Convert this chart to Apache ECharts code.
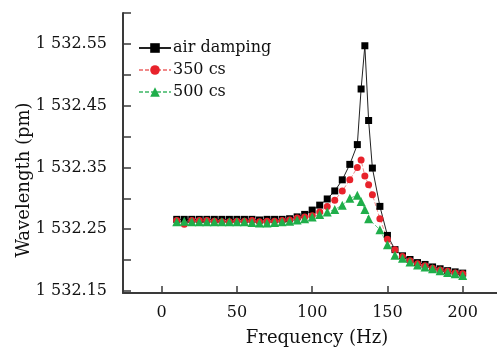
<!DOCTYPE html>
<html>
<head>
<meta charset="utf-8">
<script src="https://cdn.jsdelivr.net/npm/echarts@6/dist/echarts.min.js"></script>
<style>
html,body{margin:0;padding:0;background:#fff;}
#chart{width:497px;height:349px;}
</style>
</head>
<body>
<div id="chart"></div>
<script>
var freq = [10,15,20,25,30,35,40,45,50,55,60,65,70,75,80,85,90,95,100,105,110,115,120,125,130,132.5,135,137.5,140,145,150,155,160,165,170,175,180,185,190,195,200];

var airDamping = [1532.266,1532.266,1532.266,1532.266,1532.266,1532.266,1532.266,1532.266,1532.266,1532.266,
  1532.266,1532.265,1532.266,1532.266,1532.266,1532.267,1532.270,1532.274,1532.281,1532.289,
  1532.299,1532.312,1532.330,1532.355,1532.387,1532.477,1532.547,1532.426,1532.349,1532.287,
  1532.240,1532.217,1532.207,1532.201,1532.196,1532.193,1532.189,1532.186,1532.183,1532.181,1532.179];

var cs350 = [1532.264,1532.258,1532.264,1532.264,1532.264,1532.263,1532.262,1532.262,1532.263,1532.263,
  1532.264,1532.262,1532.263,1532.263,1532.264,1532.265,1532.268,1532.270,1532.272,1532.278,
  1532.287,1532.297,1532.312,1532.330,1532.350,1532.362,1532.336,1532.322,1532.306,1532.267,
  1532.234,1532.217,1532.206,1532.199,1532.194,1532.191,1532.187,1532.184,1532.182,1532.179,1532.178];

var cs500 = [1532.262,1532.263,1532.262,1532.262,1532.262,1532.262,1532.262,1532.262,1532.262,1532.262,
  1532.261,1532.260,1532.260,1532.261,1532.262,1532.263,1532.265,1532.267,1532.270,1532.274,
  1532.278,1532.282,1532.289,1532.300,1532.305,1532.295,1532.282,1532.267,null,1532.249,
  1532.225,1532.208,1532.203,1532.197,1532.192,1532.189,1532.186,1532.183,1532.180,1532.178,1532.175];

var seriesNames = ['air damping', '350 cs', '500 cs'];
var xTickValues = [0, 50, 100, 150, 200];
var yTickValues = [1532.15, 1532.2, 1532.25, 1532.3, 1532.35, 1532.4, 1532.45, 1532.5, 1532.55, 1532.6];
var yLabelValues = [1532.15, 1532.25, 1532.35, 1532.45, 1532.55];

function pairs(vals) {
  var out = [];
  for (var i = 0; i < freq.length; i++) {
    if (vals[i] !== null) out.push([freq[i], vals[i]]);
  }
  return out;
}

var FONT = 'DejaVu Serif';
var TXT = '#111111';
var chart = echarts.init(document.getElementById('chart'), null, {renderer: 'canvas'});
chart.setOption({
  animation: false,
  backgroundColor: '#ffffff',
  grid: {left: 123, right: 0, top: 13, bottom: 56, containLabel: false, outerBoundsMode: 'none'},
  legend: {
    orient: 'vertical',
    left: 136,
    top: 38,
    itemWidth: 32,
    itemHeight: 12,
    itemGap: 6,
    padding: [2, 4, 2, 2],
    backgroundColor: '#ffffff',
    textStyle: {fontFamily: FONT, fontSize: 16, color: TXT, padding: [0, 0, 0, -3]},
    data: seriesNames
  },
  xAxis: {
    type: 'value',
    min: -25.7,
    max: 222.8,
    name: 'Frequency (Hz)',
    nameLocation: 'middle',
    nameGap: 36,
    nameMoveOverlap: false,
    nameTextStyle: {fontFamily: FONT, fontSize: 18, color: TXT, padding: [0, 0, 0, 14]},
    splitLine: {show: false},
    axisLine: {show: true, onZero: false, lineStyle: {color: '#3a3a3a', width: 2}},
    axisTick: {show: true, inside: true, length: 7, customValues: xTickValues, lineStyle: {color: '#3a3a3a', width: 1.5}},
    axisLabel: {customValues: xTickValues, fontFamily: FONT, fontSize: 16, color: TXT, margin: 12}
  },
  yAxis: {
    type: 'value',
    min: 1532.1468,
    max: 1532.6,
    name: 'Wavelength (pm)',
    nameLocation: 'middle',
    nameRotate: 90,
    nameGap: 90,
    nameMoveOverlap: false,
    nameTextStyle: {fontFamily: FONT, fontSize: 18, color: TXT, padding: [0, 54, 0, 0]},
    splitLine: {show: false},
    axisLine: {show: true, onZero: false, lineStyle: {color: '#3a3a3a', width: 2}},
    axisTick: {show: true, inside: true, length: 8, customValues: yTickValues, lineStyle: {color: '#3a3a3a', width: 1.5}},
    axisLabel: {
      customValues: yLabelValues,
      fontFamily: FONT, fontSize: 16, color: TXT, margin: 16,
      formatter: function (v) { var s = v.toFixed(2); return s.charAt(0) + ' ' + s.slice(1); }
    }
  },
  series: [
    {
      name: seriesNames[0], type: 'line', data: pairs(airDamping),
      symbol: 'rect', symbolSize: 7,
      itemStyle: {color: '#000000'},
      lineStyle: {color: '#222222', width: 1}
    },
    {
      name: seriesNames[1], type: 'line', data: pairs(cs350),
      symbol: 'circle', symbolSize: 7,
      itemStyle: {color: '#e8222b'},
      lineStyle: {color: '#f08a8a', width: 1, type: [4, 2]}
    },
    {
      name: seriesNames[2], type: 'line', data: pairs(cs500),
      symbol: 'triangle', symbolSize: 9,
      itemStyle: {color: '#1fae4a'},
      lineStyle: {color: '#6cc88a', width: 1, type: [4, 2]}
    }
  ]
});
</script>
</body>
</html>
